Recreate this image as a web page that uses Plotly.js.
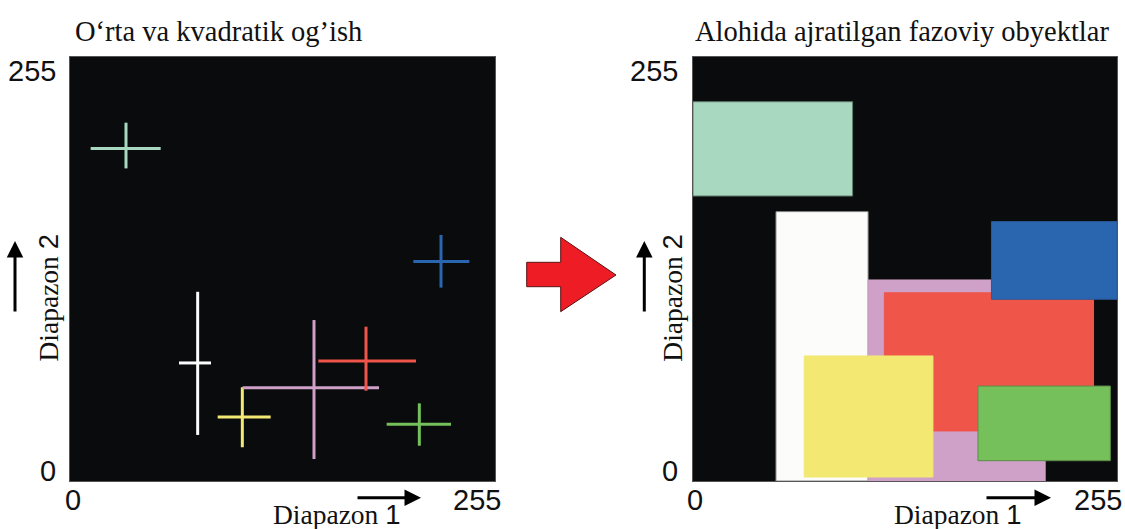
<!DOCTYPE html>
<html>
<head>
<meta charset="utf-8">
<script src="https://cdn.plot.ly/plotly-3.0.1.min.js"></script>
<style>html,body{margin:0;padding:0;background:#fff;}#chart{width:1125px;height:529px;}</style>
</head>
<body>
<div id="chart"></div>
<script>
// ---- Data ----
const leftTitle = "O‘rta va kvadratik og’ish";
const rightTitle = "Alohida ajratilgan fazoviy obyektlar";
const axisName1 = "Diapazon";
const axisNum1 = "1";
const axisNum2 = "2";
const tickLabels = ["0", "255"];

// Left panel: mean (cross centre) and spread (cross arm extents) per class
const crossNames = ["mint", "blue", "white", "yellow", "purple", "red", "green"];
const crossX   = [33.6, 222.6, 76.6, 103.4, 146.4, 177.6, 209.6];
const crossY   = [200.0, 132.0, 71.0, 38.5, 56.1, 72.2, 34.1];
const crossXLo = [12.4, 206.0, 65.4, 88.6, 103.6, 149.0, 190.0];
const crossXHi = [54.4, 239.6, 84.6, 120.4, 185.4, 207.6, 228.6];
const crossYLo = [188.0, 116.3, 27.7, 20.3, 13.2, 54.3, 21.2];
const crossYHi = [215.5, 148.0, 113.8, 56.4, 96.8, 92.8, 46.7];

// Right panel: separated class boxes (drawing order)
const rectNames = ["mint", "white", "purple", "red", "blue", "yellow", "green"];
const rectX0 = [0.0, 49.9, 105.3, 115.1, 179.5, 66.9, 171.4];
const rectX1 = [96.0, 105.3, 211.8, 240.9, 255.0, 144.3, 251.0];
const rectY0 = [171.4, 0.0, 0.0, 30.1, 109.3, 2.4, 12.2];
const rectY1 = [228.1, 162.0, 120.9, 113.2, 156.0, 75.2, 57.1];

const colors = {
  mint: "#a8d8c0", blue: "#2a66b0", white: "#fcfcfa", yellow: "#f2e872",
  purple: "#cfa0c8", red: "#f0554a", green: "#75c05a"
};
const edges = {
  mint: "#5e7a6c", blue: "#2a5a98", white: "#888888", yellow: "#f2e872",
  purple: "#cfa0c8", red: "#f0554a", green: "#5e8a4a"
};

// ---- Geometry helpers (page pixels -> paper fractions) ----
const W = 1125, H = 529;
const px = x => x / W;
const py = y => 1 - y / H;

const traces = [];
crossNames.forEach((n, i) => {
  traces.push({
    type: "scatter", mode: "lines", xaxis: "x", yaxis: "y",
    x: [crossXLo[i], crossXHi[i], null, crossX[i], crossX[i]],
    y: [crossY[i], crossY[i], null, crossYLo[i], crossYHi[i]],
    line: { color: colors[n], width: 3 },
    hoverinfo: "skip", showlegend: false
  });
});
rectNames.forEach((n, i) => {
  traces.push({
    type: "scatter", mode: "lines", xaxis: "x2", yaxis: "y2",
    x: [rectX0[i], rectX1[i], rectX1[i], rectX0[i], rectX0[i]],
    y: [rectY0[i], rectY0[i], rectY1[i], rectY1[i], rectY0[i]],
    fill: "toself", fillcolor: colors[n],
    line: { color: edges[n], width: 1 },
    hoverinfo: "skip", showlegend: false
  });
});

const axBase = {
  range: [0, 255], showticklabels: false, ticks: "", showgrid: false,
  zeroline: false, showline: true, linecolor: "#555", linewidth: 1, mirror: true,
  fixedrange: true
};

const serif = "Liberation Serif, Times New Roman, serif";
const sans = "Liberation Sans, Arial, sans-serif";
const ann = [];
function txt(text, x, y, size, family, opts) {
  ann.push(Object.assign({
    text: text, xref: "paper", yref: "paper", x: px(x), y: py(y),
    xanchor: "center", yanchor: "middle", showarrow: false,
    font: { family: family, size: size, color: "#111" }
  }, opts || {}));
}
function arrow(x0, y0, x1, y1) {
  ann.push({
    text: "", xref: "paper", yref: "paper", x: px(x1), y: py(y1),
    axref: "pixel", ayref: "pixel", ax: x0 - x1, ay: y0 - y1,
    showarrow: true, arrowhead: 2, arrowsize: 1.1, arrowwidth: 3, arrowcolor: "#000"
  });
}
const lab = (num) => axisName1 + ' <span style="font-family:Liberation Sans, Arial, sans-serif">' + num + '</span>';

// Titles
txt(leftTitle, 218.5, 31, 28.5, serif);
txt(rightTitle, 901.7, 31, 28.5, serif);

// Left panel labels
txt(tickLabels[1], 58, 71, 29, sans, { xanchor: "right" });
txt(tickLabels[0], 58, 471, 29, sans, { xanchor: "right" });
txt(tickLabels[0], 72.5, 500, 29, sans);
txt(tickLabels[1], 477, 500, 29, sans);
txt(lab(axisNum1), 337, 514, 27.5, serif);
txt(lab(axisNum2), 47.5, 298, 27.5, serif, { textangle: -90 });
arrow(356, 497.7, 421, 497.7);
arrow(15, 313, 15, 241);

// Right panel labels
txt(tickLabels[1], 680, 71, 29, sans, { xanchor: "right" });
txt(tickLabels[0], 680, 471, 29, sans, { xanchor: "right" });
txt(tickLabels[0], 695, 500, 29, sans);
txt(tickLabels[1], 1097.5, 500, 29, sans);
txt(lab(axisNum1), 958, 514, 27.5, serif);
txt(lab(axisNum2), 671.7, 298, 27.5, serif, { textangle: -90 });
arrow(985, 497.7, 1051, 497.7);
arrow(644.3, 313, 644.3, 241);

// Big red arrow between panels
const pts = [[526.7,262.3],[560.7,262.3],[560.7,237.3],[616,275],[560.7,311.7],[560.7,286.7],[526.7,286.7]];
const path = "M " + pts.map(p => px(p[0]).toFixed(5) + " " + py(p[1]).toFixed(5)).join(" L ") + " Z";

const layout = {
  width: W, height: H,
  margin: { l: 0, r: 0, t: 0, b: 0, pad: 0 },
  paper_bgcolor: "#ffffff", plot_bgcolor: "#0a0b0d",
  showlegend: false,
  xaxis: Object.assign({}, axBase, { domain: [px(70), px(495)], anchor: "y" }),
  yaxis: Object.assign({}, axBase, { domain: [py(481), py(57)], anchor: "x" }),
  xaxis2: Object.assign({}, axBase, { domain: [px(693), px(1117)], anchor: "y2" }),
  yaxis2: Object.assign({}, axBase, { domain: [py(481), py(57)], anchor: "x2" }),
  annotations: ann,
  shapes: [{
    type: "path", xref: "paper", yref: "paper", path: path,
    fillcolor: "#ee1c25", line: { color: "#5a1515", width: 1 }
  }]
};

Plotly.newPlot("chart", traces, layout, { displayModeBar: false, staticPlot: true });
</script>
</body>
</html>
